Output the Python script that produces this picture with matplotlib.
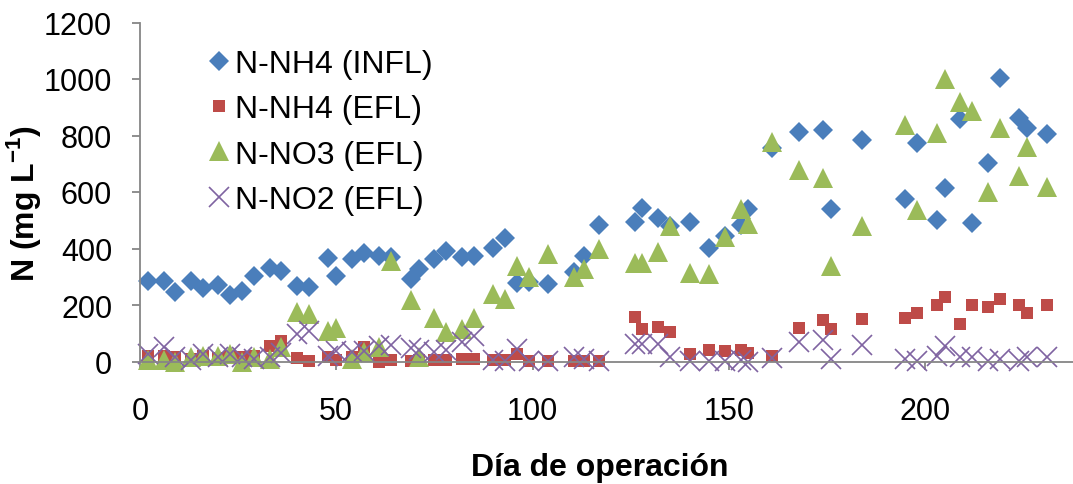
import matplotlib
matplotlib.use("Agg")
import matplotlib.pyplot as plt

plt.rcParams['font.family'] = ['Liberation Sans', 'DejaVu Sans']
plt.rcParams['mathtext.fontset'] = 'custom'
plt.rcParams['mathtext.rm'] = 'Liberation Sans'
plt.rcParams['mathtext.bf'] = 'Liberation Sans:bold'

days = [2, 6, 9, 13, 16, 20, 23, 26, 29, 33,
        36, 40, 43, 48, 50, 54, 57, 61, 64, 69,
        71, 75, 78, 82, 85, 90, 93, 96, 99, 104,
        110.5, 113, 117, 126, 128, 132, 135, 140, 145, 149,
        153, 155, 161, 168, 174, 176, 184, 195, 198, 203,
        205, 209, 212, 216, 219, 224, 226, 231]

nh4_infl = [286, 286, 245, 284, 260, 272, 236, 251, 304, 330,
            319, 266, 263, 365, 304, 363, 383, 375, 370, 292,
            327, 363, 392, 371, 372, 401, 437, 278, 283, 274,
            316, 372, 483, 495, 542, 507, 478, 495, 401, 445,
            483, 540, 755, 813, 821, 540, 784, 575, 772, 501,
            613, 858, 489, 702, 1002, 861, 825, 805]

nh4_efl = [21, 20, 15, 10, 21, 12, 20, 15, 18, 56,
           71, 11, 3, 15, 5, 17, 50, 0, 7, 3,
           5, 7, 7, 8, 8, 4, 4, 27, 3, 3,
           3, 3, 3, 156, 115, 121, 103, 27, 41, 38,
           41, 29, 21, 117, 147, 115, 150, 153, 172, 201,
           227, 133, 201, 192, 221, 201, 171, 201]

no3_efl = [5, 5, 0, 15, 21, 21, 27, 0, 15, 9,
           50, 176, 168, 109, 117, 9, 32, 50, 357, 219,
           15, 153, 103, 115, 153, 239, 221, 339, 298, 380,
           298, 327, 398, 349, 349, 389, 481, 313, 310, 440,
           540, 487, 778, 678, 648, 339, 478, 838, 537, 809,
           1000, 920, 888, 599, 826, 658, 758, 619]

no2_efl = [25, 50, 15, 4, 26, 16, 27, 15, 9, 15,
           30, 97, 109, 21, 36, 32, 36, 54, 60, 48,
           42, 32, 42, 70, 91, 5, 3, 44, 3, 3,
           15, 9, 3, 62, 62, 62, 15, 3, 3, 3,
           7, 0, 12, 68, 77, 9, 58, 9, 3, 21,
           54, 15, 15, 3, 9, 3, 15, 15]

labels = ['N-NH4 (INFL)', 'N-NH4 (EFL)', 'N-NO3 (EFL)', 'N-NO2 (EFL)']
xticks = [0, 50, 100, 150, 200]
yticks = [0, 200, 400, 600, 800, 1000, 1200]

W, H = 1073, 485
fig = plt.figure(figsize=(W / 100, H / 100), dpi=100)
ax = fig.add_axes([140 / W, (H - 362.5) / H, (W - 140) / W, 339 / H])

ax.plot(days, nh4_infl, linestyle='none', marker='D', markersize=10.2,
        color='#4A7EBB', markeredgewidth=0, label=labels[0], clip_on=False)
ax.plot(days, nh4_efl, linestyle='none', marker='s', markersize=8.6,
        color='#BE4B48', markeredgewidth=0, label=labels[1], clip_on=False)
ax.plot(days, no3_efl, linestyle='none', marker='^', markersize=14.4,
        color='#9BBB59', markeredgewidth=0, label=labels[2], clip_on=False)
ax.plot(days, no2_efl, linestyle='none', marker='x', markersize=14.4,
        color='#7F63A1', markeredgewidth=1.2, label=labels[3], clip_on=False)

ax.set_xlim(0, 933 / 3.925)
ax.set_ylim(0, 1200)
ax.set_xticks(xticks)
ax.set_yticks(yticks)

for s in ['top', 'right']:
    ax.spines[s].set_visible(False)
for s in ['left', 'bottom']:
    ax.spines[s].set_color('#868686')
    ax.spines[s].set_linewidth(1.3)

ax.tick_params(axis='both', colors='#868686', labelcolor='black',
               labelsize=22, width=1.3, length=6)
ax.tick_params(axis='x', pad=19)
ax.tick_params(axis='y', pad=14)

ax.set_ylabel(r'N (mg L$^{\mathbf{-1}}$)', fontsize=23, fontweight='bold')
ax.yaxis.set_label_coords(-0.104, 0.47)
ax.set_xlabel('Día de operación', fontsize=23, fontweight='bold')
ax.xaxis.set_label_coords((600 - 140) / (W - 140), -0.268)

leg = ax.legend(loc='upper left', bbox_to_anchor=(203 / W, 1 - 50 / H),
                bbox_transform=fig.transFigure, frameon=False, fontsize=23,
                handlelength=1.0, handletextpad=0.0, labelspacing=0.48,
                borderpad=0, borderaxespad=0, numpoints=1)

fig.savefig('out.png', dpi=100)
